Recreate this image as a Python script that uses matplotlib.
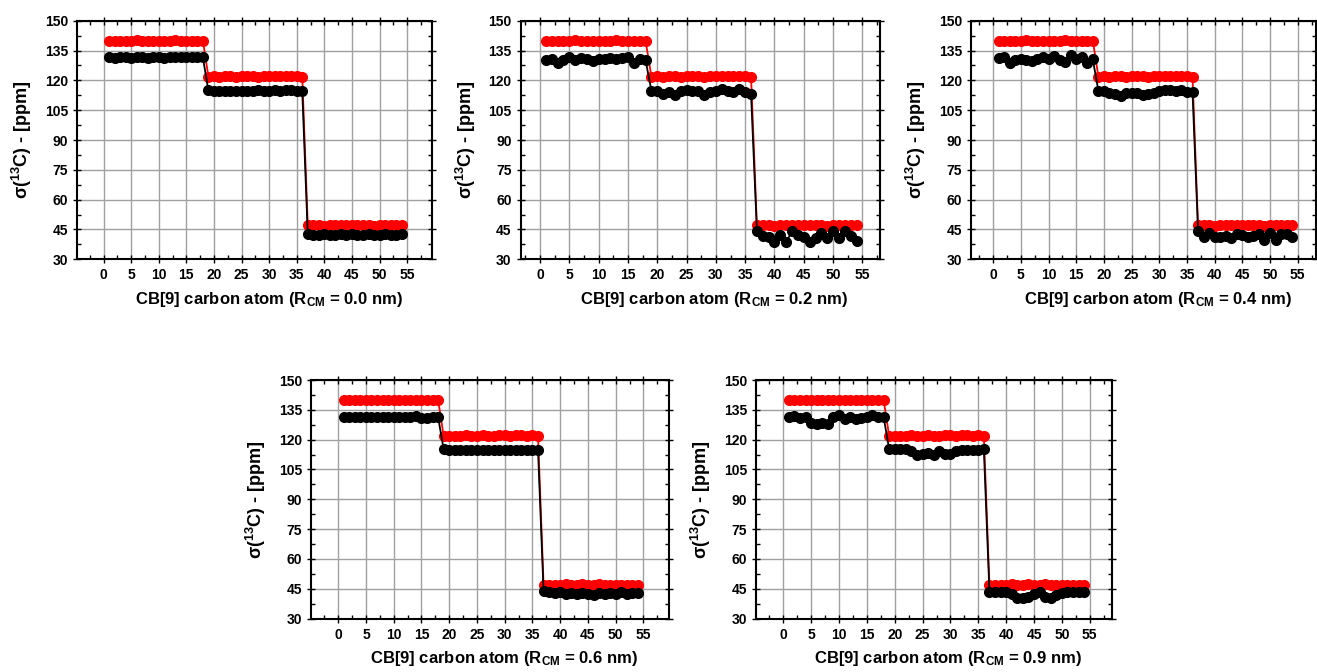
import matplotlib
matplotlib.use("Agg")
import matplotlib.pyplot as plt
from matplotlib.ticker import MultipleLocator

# --- dati ---
atom_index = list(range(1, 55))

# CB[9] libero (rosso), uguale in tutti i pannelli
red_free = ([140.0, 140.0, 139.9, 140.0, 140.0, 140.1, 140.0, 140.0, 139.9,
             140.0, 140.0, 140.0, 140.1, 140.0, 140.0, 139.9, 140.0, 140.0] +
            [121.9, 122.0, 121.8, 122.0, 122.1, 121.9, 122.0, 122.2, 122.0,
             121.9, 122.1, 122.3, 122.0, 122.1, 122.2, 122.0, 122.1, 121.8] +
            [47.0, 47.1, 47.0, 46.9, 47.2, 47.0, 47.1, 47.3, 47.0,
             47.1, 47.2, 47.0, 46.9, 47.1, 47.0, 47.0, 47.1, 47.0])

black_r00 = ([131.5, 131.4, 131.5, 131.5, 131.4, 131.5, 131.5, 131.4, 131.5,
              131.5, 131.4, 131.5, 131.5, 131.6, 131.5, 131.5, 131.6, 131.5] +
             [114.9, 114.5, 114.6, 114.8, 114.7, 114.8, 114.6, 114.8, 114.7,
              114.9, 114.8, 114.7, 114.9, 114.8, 114.9, 115.0, 114.8, 114.6] +
             [42.5, 42.4, 42.3, 42.6, 42.2, 42.4, 42.5, 42.3, 42.6,
              42.4, 42.2, 42.5, 42.3, 42.4, 42.6, 42.3, 42.4, 42.5])

black_r02 = ([130.0, 130.8, 128.9, 130.0, 131.6, 130.2, 131.3, 130.5, 129.5,
              130.5, 130.8, 131.0, 130.8, 131.2, 131.5, 128.7, 130.5, 130.2] +
             [114.8, 114.6, 113.2, 114.3, 112.6, 114.8, 115.1, 114.8, 114.8,
              112.6, 114.3, 114.8, 115.4, 114.8, 114.3, 115.4, 114.3, 113.2] +
             [44.0, 41.6, 41.3, 38.8, 42.1, 38.8, 44.0, 42.1, 41.3,
              38.8, 40.5, 43.4, 40.5, 44.0, 40.5, 44.0, 41.6, 39.3])

black_r04 = ([131.0, 131.9, 128.9, 130.2, 130.5, 130.2, 129.9, 130.5, 131.5,
              130.5, 132.2, 130.2, 129.4, 132.7, 130.5, 131.5, 128.9, 130.5] +
             [114.8, 114.5, 113.8, 113.2, 112.2, 113.5, 113.8, 113.8, 112.6,
              113.2, 113.8, 114.8, 115.1, 115.1, 114.8, 115.1, 114.3, 114.3] +
             [44.3, 41.0, 43.3, 41.0, 41.3, 41.6, 40.5, 42.8, 42.1,
              41.0, 41.6, 42.8, 39.6, 43.3, 39.6, 42.8, 42.5, 41.0])

black_r06 = ([131.3, 131.3, 131.2, 131.3, 131.3, 131.2, 131.3, 131.3, 131.3,
              131.2, 131.3, 131.4, 131.5, 131.8, 130.8, 131.0, 131.3, 131.3] +
             [115.2, 114.8, 114.6, 114.8, 114.8, 114.7, 114.8, 114.8, 114.8,
              114.7, 114.8, 114.8, 114.8, 114.7, 114.8, 114.8, 114.8, 114.9] +
             [43.8, 43.2, 42.8, 43.3, 42.5, 43.0, 42.3, 42.8, 42.4,
              42.0, 42.6, 42.2, 43.0, 42.5, 43.1, 42.4, 43.0, 42.6])

black_r09 = ([131.5, 131.7, 131.0, 131.5, 128.5, 127.9, 128.6, 128.0, 131.6,
              132.2, 130.5, 131.2, 130.2, 131.0, 131.6, 132.3, 131.6, 131.5] +
             [115.2, 115.2, 115.1, 115.2, 114.2, 112.5, 113.0, 113.3, 112.4,
              114.5, 113.0, 112.8, 114.5, 115.0, 114.8, 114.6, 115.0, 115.1] +
             [43.3, 43.2, 43.3, 43.1, 42.2, 40.5, 40.4, 41.0, 42.2,
              43.1, 41.0, 40.5, 41.6, 43.0, 43.2, 43.1, 43.2, 43.3])

r_cm_labels = ["0.0", "0.2", "0.4", "0.6", "0.9"]
black_series = [black_r00, black_r02, black_r04, black_r06, black_r09]

# --- layout (pixel) ---
W, H = 1317, 672
# (sinistra, destra, alto, basso, xlim)
panel_boxes = [
    (77, 432, 20.7, 259.3, (-4.8, 59.5)),
    (520.7, 880, 20.7, 259.3, (-3.3, 58.0)),
    (971, 1316, 20.7, 259.3, (-4.0, 58.3)),
    (311, 669, 380, 618.5, (-4.9, 59.6)),
    (756, 1112, 380, 618.5, (-4.9, 59.0)),
]

plt.rcParams['font.family'] = ['Liberation Sans', 'DejaVu Sans']
plt.rcParams['font.weight'] = 'bold'
plt.rcParams['mathtext.fontset'] = 'custom'
plt.rcParams['mathtext.rm'] = 'Liberation Sans:bold'
plt.rcParams['mathtext.bf'] = 'Liberation Sans:bold'
plt.rcParams['mathtext.it'] = 'Liberation Sans:bold'
plt.rcParams['mathtext.default'] = 'rm'

fig = plt.figure(figsize=(W / 100, H / 100), dpi=100)

for (left, right, top, bottom, xlim), black, r_cm in zip(panel_boxes, black_series, r_cm_labels):
    ax = fig.add_axes([left / W, 1 - bottom / H, (right - left) / W, (bottom - top) / H])

    ax.plot(atom_index, red_free, color='#ff0000', marker='o', markersize=7,
            linewidth=1.3, zorder=3)
    ax.plot(atom_index, black, color='black', marker='o', markersize=7,
            linewidth=1.3, zorder=4)

    ax.set_xlim(*xlim)
    ax.set_ylim(30, 150)
    ax.xaxis.set_major_locator(MultipleLocator(5))
    ax.xaxis.set_minor_locator(MultipleLocator(2.5))
    ax.yaxis.set_major_locator(MultipleLocator(15))
    ax.yaxis.set_minor_locator(MultipleLocator(7.5))

    ax.grid(True, which='major', color='#a0a0a0', linewidth=1.0, zorder=0)
    ax.set_axisbelow(True)

    ax.tick_params(which='major', direction='inout', length=6, width=1.0,
                   top=True, right=True, labelsize=10)
    ax.tick_params(which='minor', direction='in', length=3, width=1.0,
                   top=True, right=True)
    for lab in ax.get_xticklabels() + ax.get_yticklabels():
        lab.set_fontweight('bold')
    for sp in ax.spines.values():
        sp.set_linewidth(1.5)

    # etichetta x leggermente spostata a destra come nell'originale
    ax.set_xlabel(f'CB[9] carbon atom (R$_{{CM}}$ = {r_cm} nm)',
                  fontsize=12, fontweight='bold')
    ax.xaxis.set_label_coords(0.5 + 14 / (right - left), -40 / (bottom - top),
                              transform=ax.transAxes)
    ax.xaxis.label.set_va('center')
    ax.set_ylabel('σ($^{13}$C) - [ppm]', fontsize=13, fontweight='bold')
    ax.yaxis.set_label_coords(-55 / (right - left), 0.5, transform=ax.transAxes)
    ax.yaxis.label.set_va('center')

fig.savefig('out.png', dpi=100, facecolor='white')
plt.close(fig)
